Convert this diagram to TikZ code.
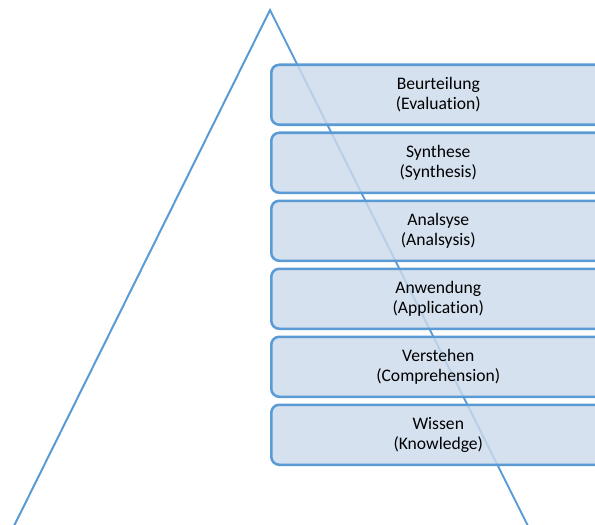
\documentclass[tikz,border=0pt]{standalone}
\usepackage{fontspec}
\setmainfont[Ligatures={NoCommon}]{Carlito}
\definecolor{lineblue}{HTML}{5B9BD5}
\definecolor{boxfill}{HTML}{CCDAEC}
\begin{document}
\begin{tikzpicture}[x=0.75pt,y=-0.75pt,
  level/.style={draw=lineblue, line width=1.9pt, rounded corners=6pt,
    fill=boxfill, fill opacity=0.82, text opacity=1,
    minimum width=334*0.75pt, minimum height=60*0.75pt, inner sep=0pt,
    align=center, font=\fontsize{13.2}{15.3}\selectfont, anchor=north west},
  tri/.style={draw=lineblue, line width=1.5pt, line join=miter}]
\useasboundingbox (0,0) rectangle (595,524);
\clip (0,0) rectangle (595,524);
\coordinate (apex) at (270,10);
\coordinate (bl) at (12,530);
\coordinate (br) at (530,530);
\draw[tri] (bl) -- (apex) -- (br);
\node[level] (b1) at (270,63.5) {Beurteilung\\(Evaluation)};
\node[level] (b2) at (270,131.5) {Synthese\\(Synthesis)};
\node[level] (b3) at (270,199.5) {Analsyse\\(Analsysis)};
\node[level] (b4) at (270,267.5) {Anwendung\\(Application)};
\node[level] (b5) at (270,335.5) {Verstehen\\(Comprehension)};
\node[level] (b6) at (270,403.5) {Wissen\\(Knowledge)};
\end{tikzpicture}
\end{document}
